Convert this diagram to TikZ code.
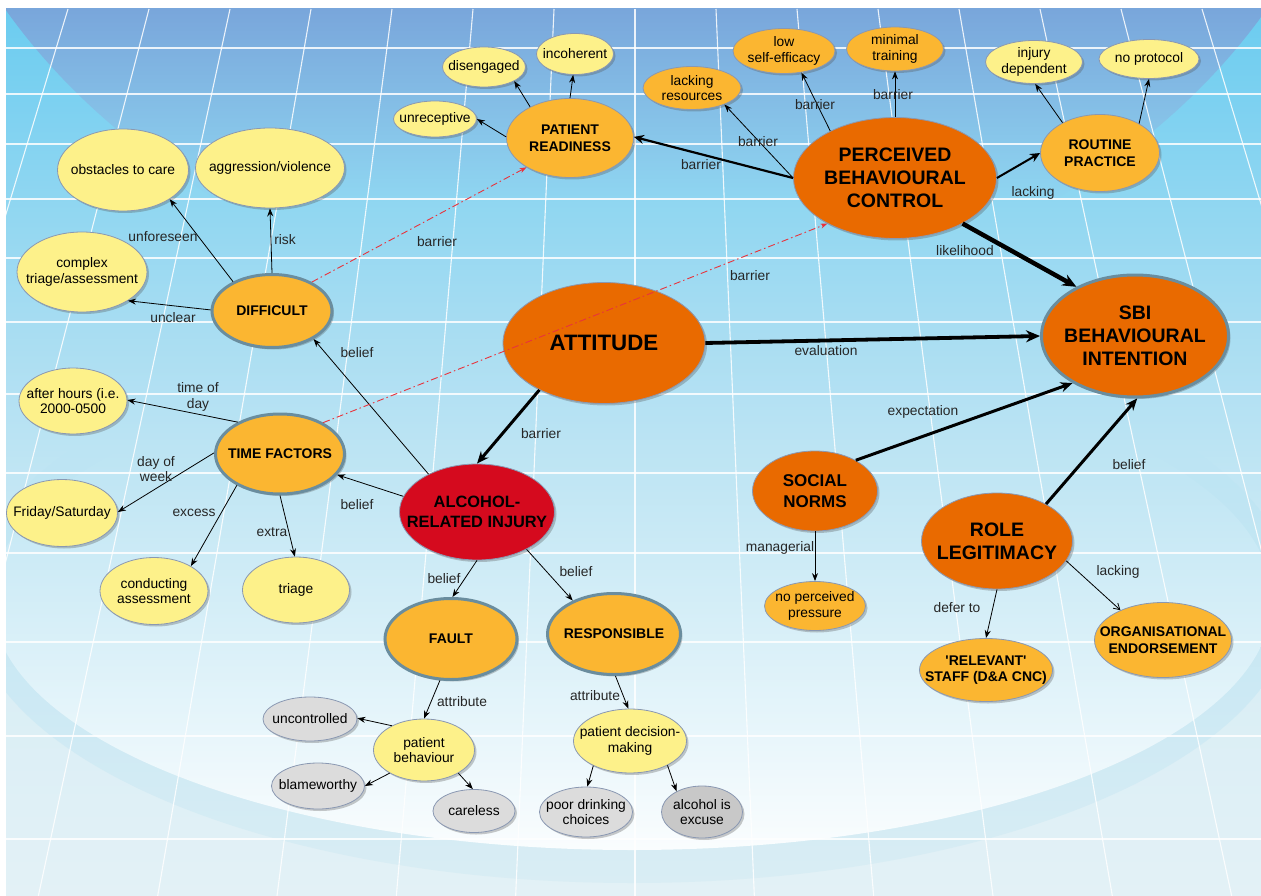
\documentclass[tikz,border=0pt]{standalone}
\usepackage{fontspec}
\setmainfont{Liberation Sans}
\usetikzlibrary{shapes.geometric,arrows.meta,shadows}

\definecolor{cyel}{HTML}{FDF18A}
\definecolor{corg}{HTML}{FBB631}
\definecolor{cdark}{HTML}{E96A00}
\definecolor{cred}{HTML}{D50A1E}
\definecolor{cgry}{HTML}{DCDCDC}
\definecolor{cgrytwo}{HTML}{C8C8C8}
\definecolor{cthin}{HTML}{8A98B2}
\definecolor{cthick}{HTML}{6A8D9E}
\definecolor{cdash}{HTML}{E8333C}
\definecolor{bgtop}{HTML}{6BCCF0}
\definecolor{bgtwo}{HTML}{8FD6F1}
\definecolor{bgc}{HTML}{A8DDF2}
\definecolor{bgfour}{HTML}{BCE4F3}
\definecolor{bgd}{HTML}{D6EDF5}
\definecolor{bgbot}{HTML}{E3F1F6}
\definecolor{bgdark}{HTML}{79A6DB}
\definecolor{bgdarkmid}{HTML}{7EB6E2}
\definecolor{bgbandmid}{HTML}{D6EBF3}
\definecolor{bgband}{HTML}{D9EDF4}
\definecolor{bgwmid}{HTML}{E6F4F9}
\definecolor{bgwhite}{HTML}{FAFDFE}

\newcommand\fsn{\fontsize{13.8}{15.8}\selectfont}
\newcommand\fsb{\fontsize{14}{16.7}\selectfont\bfseries}
\newcommand\fsbig{\fontsize{19.5}{23}\selectfont\bfseries}

\tikzset{
  base/.style={ellipse, inner xsep=-90pt, inner ysep=-45pt, align=center, text=black,
    drop shadow={shadow xshift=2pt, shadow yshift=-2pt, opacity=0.3, fill=black!70}},
  yel/.style={base, fill=cyel, draw=cthin, line width=0.8pt, font=\fsn},
  gry/.style={base, fill=cgry, draw=cthin, line width=0.8pt, font=\fsn},
  grytwo/.style={base, fill=cgrytwo, draw=cthin, line width=0.8pt, font=\fsn},
  orgn/.style={base, fill=corg, draw=cthin, line width=0.8pt, font=\fsn},
  orgone/.style={base, fill=corg, draw=cthin, line width=0.8pt, font=\fsb},
  orgtwo/.style={base, fill=corg, draw=cthick, line width=3pt, font=\fsb},
  dk/.style={base, fill=cdark, draw=cthin, line width=0.8pt, font=\fsbig},
  lbl/.style={font=\fsn, text=black!85, inner sep=0pt, align=center},
  arr/.style={-{Stealth[length=8pt,width=6pt]}, line width=0.8pt},
  arrm/.style={-{Stealth[length=10pt,width=9pt]}, line width=2.2pt},
  thk/.style={-{Stealth[length=14pt,width=12pt]}, line width=3.8pt},
  thkm/.style={-{Stealth[length=12pt,width=10pt]}, line width=3pt},
  reddash/.style={-{Stealth[length=7pt,width=5pt]}, draw=cdash, line width=0.9pt,
    dash pattern=on 7pt off 3pt on 1.5pt off 3pt},
  gridl/.style={draw=white, opacity=0.85, line width=1.1pt}
}

\begin{document}
\begin{tikzpicture}[x=1pt,y=-1pt]
\useasboundingbox (0,0) rectangle (1261,896);
\fill[white] (0,0) rectangle (1261,896);
% ---------- background ----------
\begin{scope}
  \clip (6,9) rectangle (1261,896);
  \shade[top color=bgtop, bottom color=bgc] (6,9) rectangle (1261,330.5);
  \shade[top color=bgc, bottom color=bgd] (6,330) rectangle (1261,600.5);
  \shade[top color=bgd, bottom color=bgbot] (6,600) rectangle (1261,896);
  \begin{scope}
    \clip (636,-300) ellipse [x radius=732pt, y radius=609pt];
    \shade[top color=bgdark, middle color=bgdarkmid, bottom color=bgtwo] (0,9) rectangle (1261,200);
  \end{scope}
  \begin{scope}
    \clip (632,600) ellipse [x radius=662pt, y radius=283pt];
    \shade[top color=bgfour, middle color=bgbandmid, bottom color=bgband] (0,450) rectangle (1261,883);
  \end{scope}
  \begin{scope}
    \clip (632,600) ellipse [x radius=640pt, y radius=250pt];
    \shade[top color=bgfour, middle color=bgwmid, bottom color=bgwhite] (0,450) rectangle (1261,850);
  \end{scope}
  \foreach \yy in {48,94,144,199,258,322,394,473,553,642,736,839}
    \draw[gridl] (6,\yy) -- (1261,\yy);
  \foreach \k in {-8,...,8} {
    \pgfmathsetmacro\xa{635+81*\k}
    \pgfmathsetmacro\xb{\xa+0.4733*81*\k}
    \draw[gridl] (\xa,9) -- (\xb,896);
  }
\end{scope}

% ---------- nodes ----------
\node[yel, minimum width=131pt, minimum height=82pt] (obst) at (123,170) {obstacles to care};
\node[yel, minimum width=149pt, minimum height=80pt] (aggr) at (270,168) {aggression/violence};
\node[yel, minimum width=130pt, minimum height=80pt] (cmplx) at (82,272) {complex\\triage/assessment};
\node[orgtwo, minimum width=120pt, minimum height=73pt] (diff) at (272,311) {DIFFICULT};
\node[yel, minimum width=83pt, minimum height=36pt] (unrec) at (435,119) {unreceptive};
\node[yel, minimum width=83pt, minimum height=40pt] (diseng) at (484,67) {disengaged};
\node[yel, minimum width=77pt, minimum height=41pt] (incoh) at (575,54) {incoherent};
\node[orgone, minimum width=127pt, minimum height=79pt] (pr) at (570,138) {PATIENT\\READINESS};
\node[orgn, minimum width=98pt, minimum height=43pt] (lackres) at (692,88) {lacking\\resources};
\node[orgn, minimum width=102pt, minimum height=45pt] (lowse) at (784,51) {low\\self-efficacy};
\node[orgn, minimum width=97pt, minimum height=44pt] (mintr) at (895,49) {minimal\\training};
\node[dk, minimum width=203pt, minimum height=121pt] (pbc) at (895,178) {PERCEIVED\\BEHAVIOURAL\\CONTROL};
\node[yel, minimum width=97pt, minimum height=43pt] (injdep) at (1034,62) {injury\\dependent};
\node[yel, minimum width=100pt, minimum height=39pt] (noprot) at (1149,59) {no protocol};
\node[orgone, minimum width=119pt, minimum height=77pt] (routine) at (1100,153) {ROUTINE\\PRACTICE};
\node[dk, draw=cthick, line width=3pt, minimum width=187pt, minimum height=122pt] (sbi) at (1135,336) {SBI\\BEHAVIOURAL\\INTENTION};
\node[dk, font=\fontsize{22.3}{26}\selectfont\bfseries, minimum width=202pt, minimum height=121pt] (att) at (604,343) {ATTITUDE};
\node[yel, minimum width=108pt, minimum height=66pt] (after) at (73,401) {after hours (i.e.\\2000-0500};
\node[orgtwo, minimum width=129pt, minimum height=80pt] (time) at (280,454) {TIME FACTORS};
\node[yel, minimum width=111pt, minimum height=67pt] (fri) at (62,513) {Friday/Saturday};
\node[yel, minimum width=108pt, minimum height=67pt] (cond) at (154,591) {conducting\\assessment};
\node[yel, minimum width=107pt, minimum height=66pt] (triage) at (296,590) {triage};
\node[dk, fill=cred, font=\fontsize{16.4}{19.3}\selectfont\bfseries, minimum width=155pt, minimum height=96pt] (alc) at (477,512) {ALCOHOL-\\RELATED INJURY};
\node[orgtwo, minimum width=132pt, minimum height=81pt] (fault) at (451,639) {FAULT};
\node[orgtwo, minimum width=133pt, minimum height=81pt] (resp) at (614,634) {RESPONSIBLE};
\node[dk, font=\fontsize{17}{20.5}\selectfont\bfseries, minimum width=125pt, minimum height=80pt] (social) at (815,491) {SOCIAL\\NORMS};
\node[orgn, minimum width=101pt, minimum height=49pt] (noperc) at (815,606) {no perceived\\pressure};
\node[dk, minimum width=151pt, minimum height=96pt] (role) at (997,541) {ROLE\\LEGITIMACY};
\node[orgone, minimum width=133pt, minimum height=63pt] (relev) at (986,670) {\textquotesingle RELEVANT\textquotesingle\\STAFF (D\&A CNC)};
\node[orgone, minimum width=137pt, minimum height=75pt] (org) at (1163,640) {ORGANISATIONAL\\ENDORSEMENT};
\node[gry, minimum width=94pt, minimum height=44pt] (uncon) at (310,719) {uncontrolled};
\node[yel, minimum width=101pt, minimum height=62pt] (pb) at (424,750) {patient\\behaviour};
\node[gry, minimum width=93pt, minimum height=46pt] (blame) at (318,786) {blameworthy};
\node[gry, minimum width=82pt, minimum height=43pt] (careless) at (474,811) {careless};
\node[yel, minimum width=113pt, minimum height=64pt] (pdm) at (630,741) {patient decision-\\making};
\node[gry, minimum width=93pt, minimum height=50pt] (poor) at (586,812) {poor drinking\\choices};
\node[grytwo, minimum width=81pt, minimum height=52pt] (excuse) at (702,812) {alcohol is\\excuse};

% ---------- connectors ----------
\draw[arr] (diff.143.6) -- (obst.-32.5);
\draw[arr] (diff.90) -- (aggr.-90);
\draw[arr] (diff.179) -- (cmplx.-32);
\draw[arr] (alc.142.8) -- (diff.-34.3);
\draw[arr] (alc.168.5) -- (time.-20);
\draw[arr] (time.143.8) -- (after.1);
\draw[arr] (time.179) -- (fri.1);
\draw[arr] (time.216.4) -- (cond.34.4);
\draw[arr] (time.270) -- (triage.92);
\draw[arr] (alc.270) -- (fault.88);
\draw[arr] (alc.-37.4) -- (resp.141.2);
\draw[arr] (fault.255.7) -- (pb.90);
\draw[arr] (resp.-88.6) -- (pdm.93.6);
\draw[arr] (pb.143) -- (uncon.1.2);
\draw[arr] (pb.214.9) -- (blame.0);
\draw[arr] (pb.-34) -- (careless.93);
\draw[arr] (pdm.214.4) -- (poor.87.7);
\draw[arr] (pdm.-33.3) -- (excuse.141.3);
\draw[arr] (pr.179) -- (unrec.0);
\draw[arr] (pr.142.9) -- (diseng.-25.8);
\draw[arr] (pr.90) -- (incoh.-95.4);
\draw[arrm] (pbc.180) -- (pr.1);
\draw[arr] (pbc.180) -- (lackres.-27.3);
\draw[arr] (pbc.144.5) -- (lowse.-51);
\draw[arr] (pbc.90) -- (mintr.-90);
\draw[arrm, line width=2pt] (pbc.0.5) -- (routine.180);
\draw[arr] (routine.141) -- (injdep.-87);
\draw[arr] (routine.37.6) -- (noprot.-90);
\draw[thk, line width=4.5pt] (pbc.-34.7) -- (sbi.140.1);
\draw[thk] (att.0) -- (sbi.180);
\draw[thkm] (att.216.3) -- (alc.90);
\draw[thkm] (social.37.8) -- (sbi.217.8);
\draw[thkm] (role.37.8) -- (sbi.-88);
\draw[arr] (social.270) -- (noperc.90);
\draw[arr] (role.270) -- (relev.90);
\draw[-{Straight Barb[length=6pt,width=7pt]}, line width=0.8pt] (role.-16) -- (org.145);
\draw[reddash] (diff.36.4) -- (pr.214.9);
\draw[reddash] (time.36.2) -- (pbc.214.5);

% ---------- connector labels ----------
\node[lbl] (l1) at (163,237) {unforeseen};
\node[lbl] (l2) at (285,240) {risk};
\node[lbl] (l3) at (173,318) {unclear};
\node[lbl] (l4) at (357,353) {belief};
\node[lbl] (l5) at (357,505) {belief};
\node[lbl] (l6) at (198,397) {time of\\day};
\node[lbl] (l7) at (156,469) {day of\\week};
\node[lbl] (l8) at (194,513) {excess};
\node[lbl] (l9) at (272,532) {extra};
\node[lbl] (l10) at (444,579) {belief};
\node[lbl] (l11) at (576,572) {belief};
\node[lbl] (l12) at (462,702) {attribute};
\node[lbl] (l13) at (595,696) {attribute};
\node[lbl] (l14) at (437,242) {barrier};
\node[lbl] (l15) at (750,276) {barrier};
\node[lbl] (l16) at (701,165) {barrier};
\node[lbl] (l17) at (758,142) {barrier};
\node[lbl] (l18) at (815,105) {barrier};
\node[lbl] (l19) at (893,95) {barrier};
\node[lbl] (l20) at (1033,193) {lacking};
\node[lbl] (l21) at (965,251) {likelihood};
\node[lbl] (l22) at (826,351) {evaluation};
\node[lbl] (l23) at (541,434) {barrier};
\node[lbl] (l24) at (923,412) {expectation};
\node[lbl] (l25) at (1129,465) {belief};
\node[lbl] (l26) at (1118,572) {lacking};
\node[lbl] (l27) at (957,608) {defer to};
\node[lbl] (l28) at (780,548) {managerial};
\end{tikzpicture}
\end{document}
